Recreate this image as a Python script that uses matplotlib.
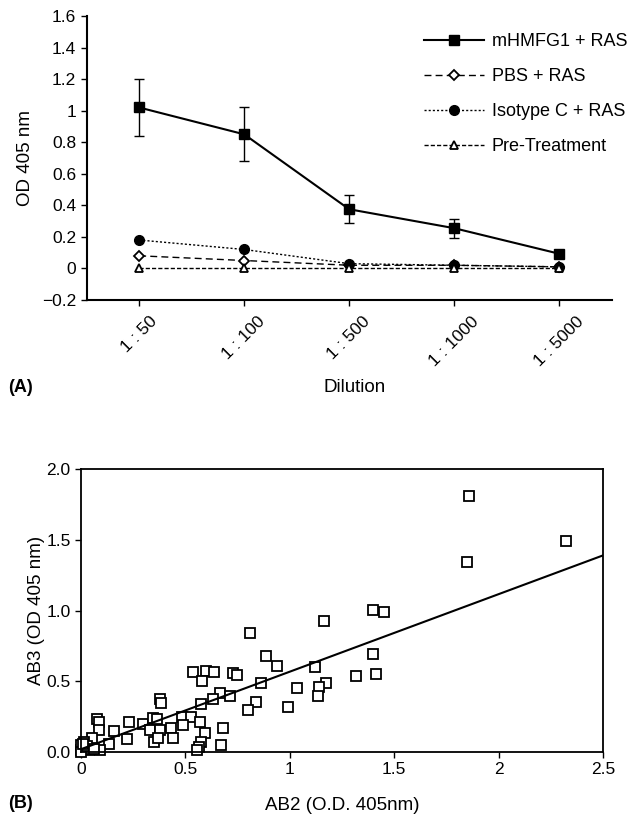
import numpy as np
import matplotlib
matplotlib.use('Agg')
import matplotlib.pyplot as plt
from matplotlib.lines import Line2D

plt.rcParams['font.family'] = ['Liberation Sans', 'DejaVu Sans']
plt.rcParams['font.size'] = 13

# panel A data
dilutions = ['1 : 50', '1 : 100', '1 : 500', '1 : 1000', '1 : 5000']
mhmfg1 = [1.02, 0.85, 0.375, 0.255, 0.093]
mhmfg1_err = [0.18, 0.17, 0.09, 0.06, 0.0]
pbs = [0.08, 0.05, 0.02, 0.02, 0.01]
isotype = [0.18, 0.12, 0.03, 0.02, 0.01]
pretreat = [0.0, 0.0, 0.0, 0.0, 0.0]

# panel B data
ab2 = [1.858, 2.32, 1.849, 1.397, 1.450, 1.164, 1.398, 1.413, 1.315, 1.122,
       1.172, 1.141, 1.133, 0.811, 0.886, 0.939, 1.033, 0.993, 0.862, 0.837,
       0.800, 0.535, 0.599, 0.639, 0.578, 0.726, 0.749, 0.667, 0.714, 0.634,
       0.573, 0.380, 0.381, 0.077, 0.231, 0.295, 0.347, 0.362, 0.328, 0.380,
       0.485, 0.527, 0.490, 0.568, 0.433, 0.439, 0.350, 0.367, 0.594, 0.679,
       0.576, 0.565, 0.554, 0.671, 0.088, 0.088, 0.158, 0.219, 0.134, 0.091,
       0.051, 0.040, 0.014, 0.0, 0.0, 0.02, 0.0, 0.03, 0.06, 0.01]
ab3 = [1.811, 1.491, 1.340, 1.001, 0.992, 0.926, 0.690, 0.553, 0.537, 0.598,
       0.488, 0.457, 0.394, 0.839, 0.681, 0.606, 0.455, 0.316, 0.485, 0.351,
       0.295, 0.568, 0.575, 0.563, 0.500, 0.556, 0.547, 0.419, 0.396, 0.377,
       0.339, 0.372, 0.349, 0.235, 0.210, 0.198, 0.243, 0.231, 0.155, 0.155,
       0.250, 0.245, 0.191, 0.210, 0.167, 0.097, 0.073, 0.101, 0.132, 0.167,
       0.071, 0.037, 0.014, 0.049, 0.212, 0.155, 0.151, 0.090, 0.057, 0.014,
       0.097, 0.014, 0.071, 0.014, 0.05, 0.02, 0.0, 0.04, 0.02, 0.06]
fit_x = [0.0, 2.5]
fit_y = [0.02, 1.39]

fig = plt.figure(figsize=(6.43, 8.16), dpi=100)

# ---- panel A ----
ax1 = fig.add_axes([0.1348, 0.6324, 0.8165, 0.348])
x = np.arange(len(dilutions))
ax1.errorbar(x, mhmfg1, yerr=mhmfg1_err, color='black', lw=1.5, marker='s',
             ms=7, capsize=3.5, elinewidth=1, capthick=1)
h2, = ax1.plot(x, pbs, color='black', lw=1, ls=(0, (5, 3)), marker='D', ms=5,
               mfc='white', mew=1.3)
h3, = ax1.plot(x, isotype, color='black', lw=1, ls=(0, (1.5, 1.5)), marker='o', ms=7)
h4, = ax1.plot(x, pretreat, color='black', lw=1, ls=(0, (3, 1.5)), marker='^', ms=6,
               mfc='white', mew=1.3)
h1 = Line2D([], [], color='black', lw=1.5, marker='s', ms=7)
ax1.set_xlim(-0.5, 4.5)
ax1.set_ylim(-0.2, 1.6)
ax1.set_yticks(np.arange(-0.2, 1.61, 0.2))
ax1.set_yticklabels(['\u22120.2', '0', '0.2', '0.4', '0.6', '0.8', '1', '1.2', '1.4', '1.6'],
                    fontsize=12.5)
ax1.set_xticks(x)
ax1.set_xticklabels(dilutions, rotation=45, ha='center', va='top', fontsize=12.5)
ax1.spines['top'].set_visible(False)
ax1.spines['right'].set_visible(False)
ax1.spines['left'].set_linewidth(1.5)
ax1.spines['bottom'].set_linewidth(1.5)
ax1.tick_params(length=4, width=1)
ax1.tick_params(axis='x', pad=6)
ax1.set_ylabel('OD 405 nm', fontsize=13.5)
ax1.yaxis.set_label_coords(-0.1, 0.5)
fig.text(355 / 643, 1 - 387 / 816, 'Dilution', ha='center', va='center', fontsize=13.5)
fig.text(8 / 643, 1 - 387 / 816, '(A)', ha='left', va='center', fontweight='bold')
ax1.legend([h1, h2, h3, h4],
           ['mHMFG1 + RAS', 'PBS + RAS', 'Isotype C + RAS', 'Pre-Treatment'],
           loc='upper left', bbox_to_anchor=(424 / 643, 1 - 33 / 816),
           bbox_transform=fig.transFigure, frameon=False, borderpad=0,
           borderaxespad=0, handlelength=3.3, handletextpad=0.45, labelspacing=1.0)

# ---- panel B ----
ax2 = fig.add_axes([0.126, 0.0784, 0.812, 0.3468])
ax2.plot(ab2, ab3, ls='none', marker='s', ms=6.7, mfc='white', mec='black',
         mew=1.3, clip_on=False)
ax2.plot(fit_x, fit_y, color='black', lw=1.5)
ax2.set_xlim(0, 2.5)
ax2.set_ylim(0, 2.0)
ax2.set_xticks([0, 0.5, 1, 1.5, 2, 2.5])
ax2.set_xticklabels(['0', '0.5', '1', '1.5', '2', '2.5'], fontsize=12.5)
ax2.set_yticks([0, 0.5, 1.0, 1.5, 2.0])
ax2.set_yticklabels(['0.0', '0.5', '1.0', '1.5', '2.0'], fontsize=12.5)
for s in ax2.spines.values():
    s.set_linewidth(1.3)
ax2.tick_params(length=4, width=1)
ax2.set_ylabel('AB3 (OD 405 nm)', fontsize=13.5)
ax2.yaxis.set_label_coords(-0.069, 0.5)
fig.text(342 / 643, 1 - 805 / 816, 'AB2 (O.D. 405nm)', ha='center', va='center',
         fontsize=13.5)
fig.text(8 / 643, 1 - 803 / 816, '(B)', ha='left', va='center', fontweight='bold')

fig.savefig('out.png', dpi=100)
